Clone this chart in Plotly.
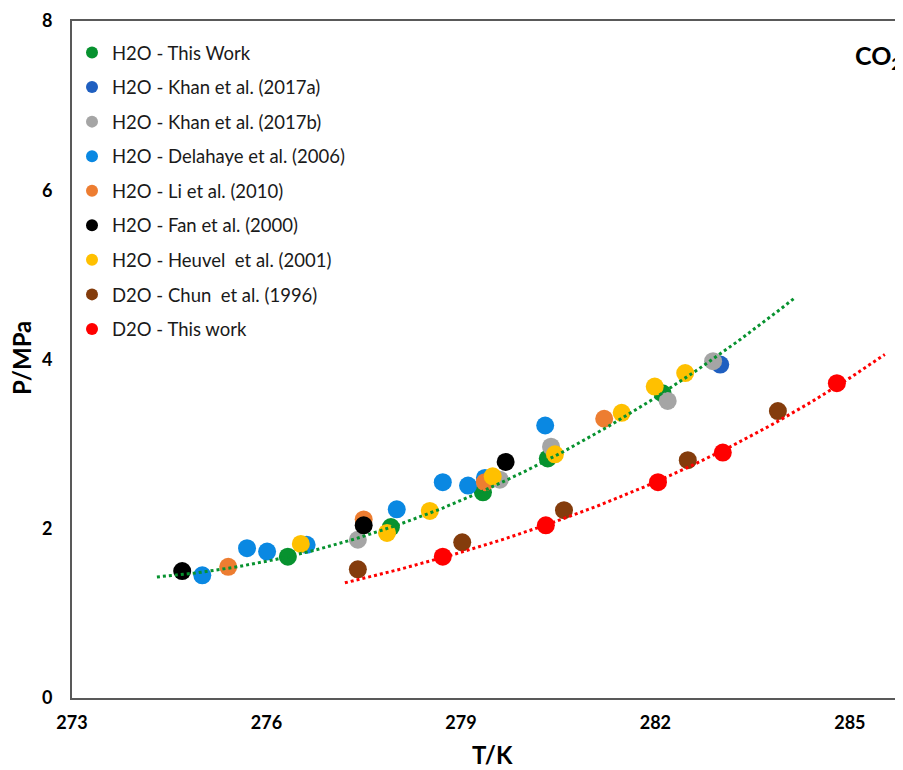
import numpy as np
import plotly.graph_objects as go

# ---- data (T in K, P in MPa) ----
h2o_this_T = [276.33, 277.92, 279.34, 280.34, 282.11]
h2o_this_P = [1.67, 2.02, 2.43, 2.83, 3.60]

khan_a_T = [283.00]
khan_a_P = [3.94]

khan_b_T = [277.41, 279.60, 280.39, 282.19, 282.89]
khan_b_P = [1.87, 2.58, 2.97, 3.51, 3.98]

delahaye_T = [275.01, 275.70, 276.01, 276.62, 278.01, 278.72, 279.11, 279.37, 280.30]
delahaye_P = [1.45, 1.77, 1.73, 1.81, 2.23, 2.55, 2.51, 2.60, 3.22]

li_T = [275.41, 277.50, 279.37, 281.21]
li_P = [1.55, 2.11, 2.55, 3.30]

fan_T = [274.70, 277.50, 279.69]
fan_P = [1.50, 2.04, 2.79]

heuvel_T = [276.53, 277.86, 278.52, 279.49, 280.45, 281.48, 281.99, 282.46]
heuvel_P = [1.82, 1.95, 2.21, 2.62, 2.88, 3.37, 3.68, 3.84]

chun_T = [277.41, 279.02, 280.59, 282.50, 283.89]
chun_P = [1.52, 1.84, 2.22, 2.81, 3.39]

d2o_this_T = [278.72, 280.31, 282.04, 283.04, 284.80]
d2o_this_P = [1.67, 2.04, 2.55, 2.90, 3.72]

series_names = [
    "H2O - This Work",
    "H2O - Khan et al. (2017a)",
    "H2O - Khan et al. (2017b)",
    "H2O - Delahaye et al. (2006)",
    "H2O - Li et al. (2010)",
    "H2O - Fan et al. (2000)",
    "H2O - Heuvel  et al. (2001)",
    "D2O - Chun  et al. (1996)",
    "D2O - This work",
]
series_T = [h2o_this_T, khan_a_T, khan_b_T, delahaye_T, li_T, fan_T, heuvel_T, chun_T, d2o_this_T]
series_P = [h2o_this_P, khan_a_P, khan_b_P, delahaye_P, li_P, fan_P, heuvel_P, chun_P, d2o_this_P]
series_colors = ["#07922F", "#1F5FC0", "#A5A5A5", "#0A88E2", "#ED7D31",
                 "#000000", "#FFC000", "#843C0C", "#FF0000"]

x_ticks = [273, 276, 279, 282, 285]
y_ticks = [0, 2, 4, 6, 8]

# trendline extents (K)
h2o_trend_range = [274.31, 284.15]
d2o_trend_range = [277.21, 285.54]

fig = go.Figure()

for i, (name, T, P, c) in enumerate(zip(series_names, series_T, series_P, series_colors)):
    fig.add_trace(go.Scatter(
        x=T, y=P, mode="markers", name=name, legendgroup=f"g{i}",
        marker=dict(color=c, size=18, line=dict(width=0)),
    ))

# trendlines fitted to the "This Work" data
coef_h2o = np.polyfit(h2o_this_T, h2o_this_P, 2)
tt = np.linspace(h2o_trend_range[0], h2o_trend_range[1], 200)
fig.add_trace(go.Scatter(x=tt, y=np.polyval(coef_h2o, tt), mode="lines",
                         line=dict(color="#07922F", width=3, dash="3px,3px"),
                         showlegend=False, hoverinfo="skip"))

coef_d2o = np.polyfit(d2o_this_T, np.log(d2o_this_P), 1)
tt2 = np.linspace(d2o_trend_range[0], d2o_trend_range[1], 200)
fig.add_trace(go.Scatter(x=tt2, y=np.exp(np.polyval(coef_d2o, tt2)), mode="lines",
                         line=dict(color="#FF0000", width=3, dash="3px,3px"),
                         showlegend=False, hoverinfo="skip"))

# page body has an 8px margin: figure is placed at (8, 8) in the window
OFF = 8
FIG_W, FIG_H = 903 - OFF, 770 - OFF
L, T, W, H = 72 - OFF, 21 - OFF, 831, 677


def px_x(wx):
    return (wx - OFF - L) / W


def px_y(wy):
    return 1 - (wy - OFF - T) / H


axis_line = "#595959"
fig.update_layout(
    width=FIG_W, height=FIG_H,
    margin=dict(l=L, r=FIG_W - L - W, t=T, b=FIG_H - T - H, autoexpand=False),
    plot_bgcolor="white", paper_bgcolor="white",
    font=dict(family="Lato", color="black"),
    legend=dict(
        x=px_x(72), y=px_y(34), xanchor="left", yanchor="top",
        font=dict(family="Lato", size=18.5, color="#1a1a1a"),
        itemsizing="constant", tracegroupgap=7.5,
        bgcolor="rgba(0,0,0,0)",
    ),
    xaxis=dict(
        range=[273, 285.82], tickvals=x_ticks, ticktext=[str(v) for v in x_ticks],
        showline=True, linecolor=axis_line, linewidth=2, mirror=True,
        showgrid=False, zeroline=False, ticks="", automargin=False,
        tickfont=dict(family="Lato", size=18, weight="bold", color="black"),
        ticklabelstandoff=7,
    ),
    yaxis=dict(
        range=[0, 8], tickvals=y_ticks, ticktext=[str(v) for v in y_ticks],
        showline=True, linecolor=axis_line, linewidth=2, mirror=False,
        showgrid=False, zeroline=False, ticks="", automargin=False,
        tickfont=dict(family="Lato", size=18, weight="bold", color="black"),
        ticklabelstandoff=14,
    ),
    annotations=[
        dict(text="T/K", xref="paper", yref="paper", x=px_x(493), y=px_y(755),
             xanchor="center", yanchor="middle", showarrow=False,
             font=dict(family="Lato", size=24, weight="bold", color="black")),
        dict(text="P/MPa", xref="paper", yref="paper", x=px_x(22), y=px_y(358),
             xanchor="center", yanchor="middle", showarrow=False, textangle=-90,
             font=dict(family="Lato", size=24, weight="bold", color="black")),
        dict(text="CO<sub>2</sub>", xref="paper", yref="paper", x=px_x(853),
             y=px_y(57), xanchor="left", yanchor="middle", showarrow=False,
             font=dict(family="Lato", size=25, weight="bold", color="black")),
    ],
)

fig.write_html("out.html")
